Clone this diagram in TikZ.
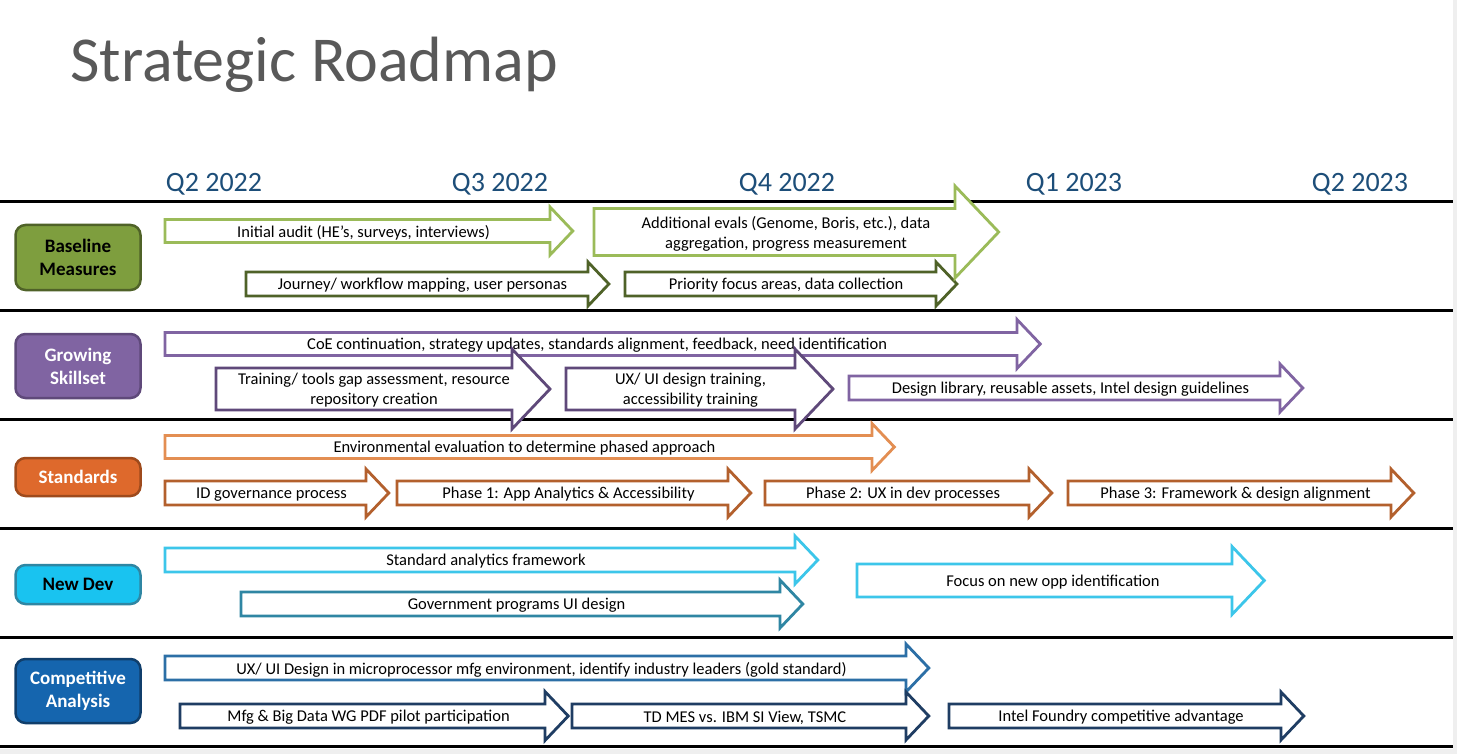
\documentclass[tikz,border=0pt]{standalone}
\usepackage{fontspec}
\setmainfont{Carlito}
\usepackage{xcolor}
\definecolor{titlegray}{HTML}{595959}
\definecolor{quarter}{HTML}{1D4E79}
\definecolor{pagegray}{HTML}{EFEFEF}
\definecolor{greenlt}{HTML}{9BBB59}
\definecolor{greendk}{HTML}{4F6228}
\definecolor{greenbox}{HTML}{7E9E3E}
\definecolor{purplelt}{HTML}{8064A2}
\definecolor{purpledk}{HTML}{5F497A}
\definecolor{orangelt}{HTML}{E38E52}
\definecolor{orangedk}{HTML}{B3602D}
\definecolor{orangebox}{HTML}{DE692C}
\definecolor{orangeedge}{HTML}{9E4A1C}
\definecolor{cyanlt}{HTML}{3CC6EA}
\definecolor{tealdk}{HTML}{2F86A3}
\definecolor{cyanbox}{HTML}{19C3F0}
\definecolor{bluelt}{HTML}{2C6FA6}
\definecolor{bluedk}{HTML}{1F3D63}
\definecolor{bluebox}{HTML}{1565AE}
\definecolor{blueedge}{HTML}{103E6B}
\usepackage{tikz}
\usetikzlibrary{calc}
\tikzset{
  every picture/.style={x=1pt, y=-1pt},
  lane/.style={draw=black, line width=3pt},
  qlabel/.style={anchor=base, inner sep=0pt, text=quarter, font=\fontsize{28}{30}\selectfont},
  catbox/.style={rounded corners=10pt, line width=2.5pt, minimum width=125, align=center,
    font=\fontsize{19}{23}\selectfont\bfseries, inner sep=2pt},
  arrowshape/.style={fill=white, line width=2.8pt, line join=miter},
  arrowtext/.style={align=center, inner sep=0pt, text=black, font=\fontsize{16.5}{20}\selectfont},
}
% block arrow: name, colour, tail x, shaft end x, centre y, half shaft, half head, text
\newcommand{\roadarrow}[8]{%
  \draw[arrowshape, draw=#2] (#3,{#5-#6}) -- (#4,{#5-#6}) -- (#4,{#5-#7})
    -- ({#4+0.95*#7},#5) -- (#4,{#5+#7}) -- (#4,{#5+#6}) -- (#3,{#5+#6}) -- cycle;
  \node[arrowtext] (#1) at ({(#3+#4)/2+#7/4},{#5+1.5}) {#8};
}

\begin{document}
\begin{tikzpicture}
  \fill[pagegray] (0,0) rectangle (1457,754);
  \fill[white] (0,0) rectangle (1453,749);
  \useasboundingbox (0,0) rectangle (1457,754);

  \node[anchor=base west, inner sep=0pt, text=titlegray, font=\fontsize{64}{66}\selectfont]
    (title) at (70,82) {Strategic Roadmap};

  \foreach \x/\q [count=\i] in {214/Q2 2022, 500/Q3 2022, 787/Q4 2022, 1074/Q1 2023, 1360/Q2 2023}
    \node[qlabel] (q\i) at (\x,192) {\q};

  \foreach \y in {202,310,419,528,637,746}
    \draw[lane] (0,\y) -- (1453,\y);

  % row labels
  \node[catbox, fill=greenbox, draw=greendk, minimum height=65, text=black] (base) at (78,257.5) {Baseline\\Measures};
  \node[catbox, fill=purplelt, draw=purpledk, minimum height=64, text=white] (skill) at (78,366) {Growing\\Skillset};
  \node[catbox, fill=orangebox, draw=orangeedge, minimum height=38, text=white] (std) at (78,477) {Standards};
  \node[catbox, fill=cyanbox, draw=tealdk, minimum height=39, text=black] (newdev) at (78,584.5) {New Dev};
  \node[catbox, fill=bluebox, draw=blueedge, minimum height=64, text=white] (comp) at (78,691) {Competitive\\Analysis};

  % baseline measures
  \roadarrow{audit}{greenlt}{165}{550}{231}{11.5}{24}{Initial audit (HE’s, surveys, interviews)}
  \roadarrow{journey}{greendk}{246}{588}{284}{12}{22}{Journey/ workflow mapping, user personas}
  \roadarrow{priority}{greendk}{625}{936}{284}{12}{22}{Priority focus areas, data collection}
  \roadarrow{evals}{greenlt}{594}{955}{232}{23.5}{46}{Additional evals (Genome, Boris, etc.), data\\aggregation, progress measurement}

  % growing skillset
  \roadarrow{coe}{purplelt}{165}{1017}{344}{11.5}{24.5}{CoE continuation, strategy updates, standards alignment, feedback, need identification}
  \roadarrow{training}{purpledk}{216}{512}{389}{21}{40}{Training/ tools gap assessment, resource\\repository creation}
  \roadarrow{uxtrain}{purpledk}{566}{795}{389}{21}{40}{UX/ UI design training,\\accessibility training}
  \roadarrow{designlib}{purplelt}{849}{1280}{388}{12}{24}{Design library, reusable assets, Intel design guidelines}

  % standards
  \roadarrow{enveval}{orangelt}{165}{872}{447}{11.5}{23.5}{Environmental evaluation to determine phased approach}
  \roadarrow{idgov}{orangedk}{165}{366}{493}{12}{24}{ID governance process}
  \roadarrow{phaseone}{orangedk}{397}{728}{493}{12}{24}{Phase 1: App Analytics \& Accessibility}
  \roadarrow{phasetwo}{orangedk}{765}{1029}{493}{12}{24}{Phase 2: UX in dev processes}
  \roadarrow{phasethree}{orangedk}{1068}{1391}{493}{12}{24}{Phase 3: Framework \& design alignment}

  % new dev
  \roadarrow{analytics}{cyanlt}{165}{795}{560}{12}{24}{Standard analytics framework}
  \roadarrow{govui}{tealdk}{241}{780}{604}{12}{24}{Government programs UI design}
  \roadarrow{newopp}{cyanlt}{857}{1232}{580.5}{16.5}{34}{Focus on new opp identification}

  % competitive analysis
  \roadarrow{mfgenv}{bluelt}{165}{906}{668}{12}{24}{UX/ UI Design in microprocessor mfg environment, identify industry leaders (gold standard)}
  \roadarrow{bigdata}{bluedk}{180}{545}{716}{12}{24.5}{Mfg \& Big Data WG PDF pilot participation}
  \roadarrow{tdmes}{bluedk}{572}{906}{716}{12}{24}{TD MES vs. IBM SI View, TSMC}
  \roadarrow{foundry}{bluedk}{949}{1281}{716}{12}{24}{Intel Foundry competitive advantage}
\end{tikzpicture}
\end{document}
